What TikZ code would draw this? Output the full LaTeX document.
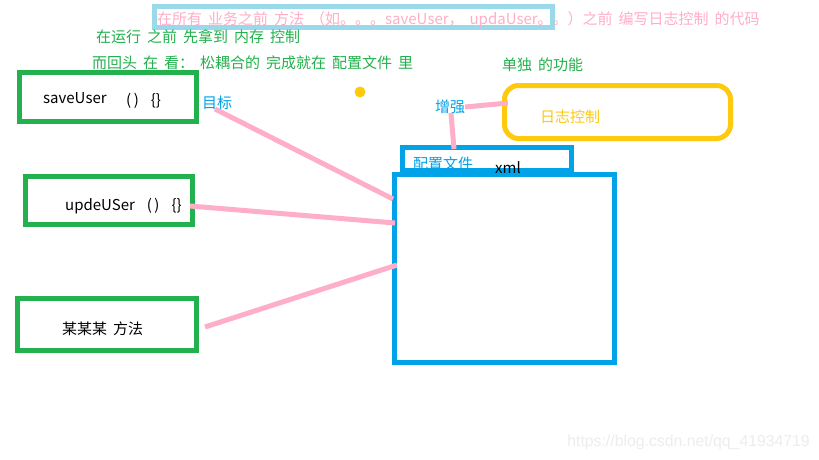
\documentclass[tikz,border=0pt]{standalone}
\usepackage{fontspec}
\setmainfont{Noto Sans CJK SC}
\newfontfamily\wmfont{Liberation Sans}
\definecolor{pk}{HTML}{FFAEC9}
\definecolor{gr}{HTML}{22B14C}
\definecolor{bl}{HTML}{00A2E8}
\definecolor{yl}{HTML}{FFC90E}
\definecolor{lb}{HTML}{99D9EA}
\newcommand{\widesp}{\spaceskip=6pt\relax}
\tikzset{
  box/.style={draw,line width=5pt,minimum width=#1,inner sep=0pt,outer sep=0pt},
  txt/.style={anchor=west,inner sep=0pt,yshift=-1pt,font=\fontsize{15}{15}\selectfont,execute at begin node={\widesp}},
  link/.style={draw=pk,line width=5pt},
}
\begin{document}
\begin{tikzpicture}[x=1pt,y=-1pt]
\useasboundingbox (0,0) rectangle (819,460);
\fill[white] (0,0) rectangle (819,460);
% top box and text
\node[box=398pt,draw=lb,minimum height=21pt] (top) at (353.5,17) {};
\node[txt,text=pk] (toptext) at (157,19) {在所有 业务之前 方法 （如。。。saveUser， updaUser。。）之前 编写日志控制 的代码};
\node[txt,text=gr] (t1) at (96,36) {在运行 之前 先拿到 内存 控制};
\node[txt,text=gr] (t2) at (92,62) {而回头 在 看： 松耦合的 完成就在 配置文件 里};
\node[txt,text=gr] (t3) at (502,64) {单独 的功能};
\fill[yl] (360,92) circle (5.5pt);
% green boxes
\node[box=177pt,draw=gr,minimum height=49pt] (b1) at (108,97) {};
\node[box=167pt,draw=gr,minimum height=48pt] (b2) at (109,200.5) {};
\node[box=179pt,draw=gr,minimum height=52pt] (b3) at (107,324.5) {};
\node[txt] (save) at (43,97) {saveUser};
\node[txt] (savep) at (126,100) {(\,)\ \ \{\}};
\node[txt] (upde) at (65,205) {updeUSer\ \ (\,)\ \ \{\}};
\node[txt] (mou) at (62,328) {某某某 方法};
\node[txt,text=bl] (target) at (202,102) {目标};
% blue boxes
\node[box=169pt,draw=bl,minimum height=23pt] (cfg) at (487,159) {};
\node[box=220pt,draw=bl,minimum height=188pt] (main) at (504.5,268.5) {};
\node[txt,text=bl] (cfgt) at (413,163) {配置文件};
\node[txt] (xml) at (495,167) {xml};
\node[txt,text=bl] (enh) at (435,106) {增强};
% yellow
\node[draw=yl,line width=5pt,rounded corners=14pt,minimum width=226pt,minimum height=53pt,inner sep=0pt,outer sep=0pt] (log) at (617.5,112) {};
\node[txt,text=yl] (logt) at (540,116) {日志控制};
% connectors
\coordinate (c1) at (215,109);
\coordinate (c3) at (205,327);
\coordinate (e1) at (465,107);
\coordinate (e2) at (451,113);
\coordinate (l1) at (508,103);
\coordinate (f1) at (454,149);
\coordinate (m1) at (393,199);
\coordinate (m2) at (395,223);
\coordinate (m3) at (397,265);
\coordinate (b2r) at (190,206);
\draw[link] (c1) -- (m1);
\draw[link] (b2r) -- (m2);
\draw[link] (c3) -- (m3);
\draw[link] (e1) -- (l1);
\draw[link] (e2) -- (f1);
\node[anchor=east,inner sep=0pt,text=black!7,font=\wmfont\fontsize{15.8}{16}\selectfont] (wm) at (810,442) {https://blog.csdn.net/qq\_41934719};
\end{tikzpicture}
\end{document}
